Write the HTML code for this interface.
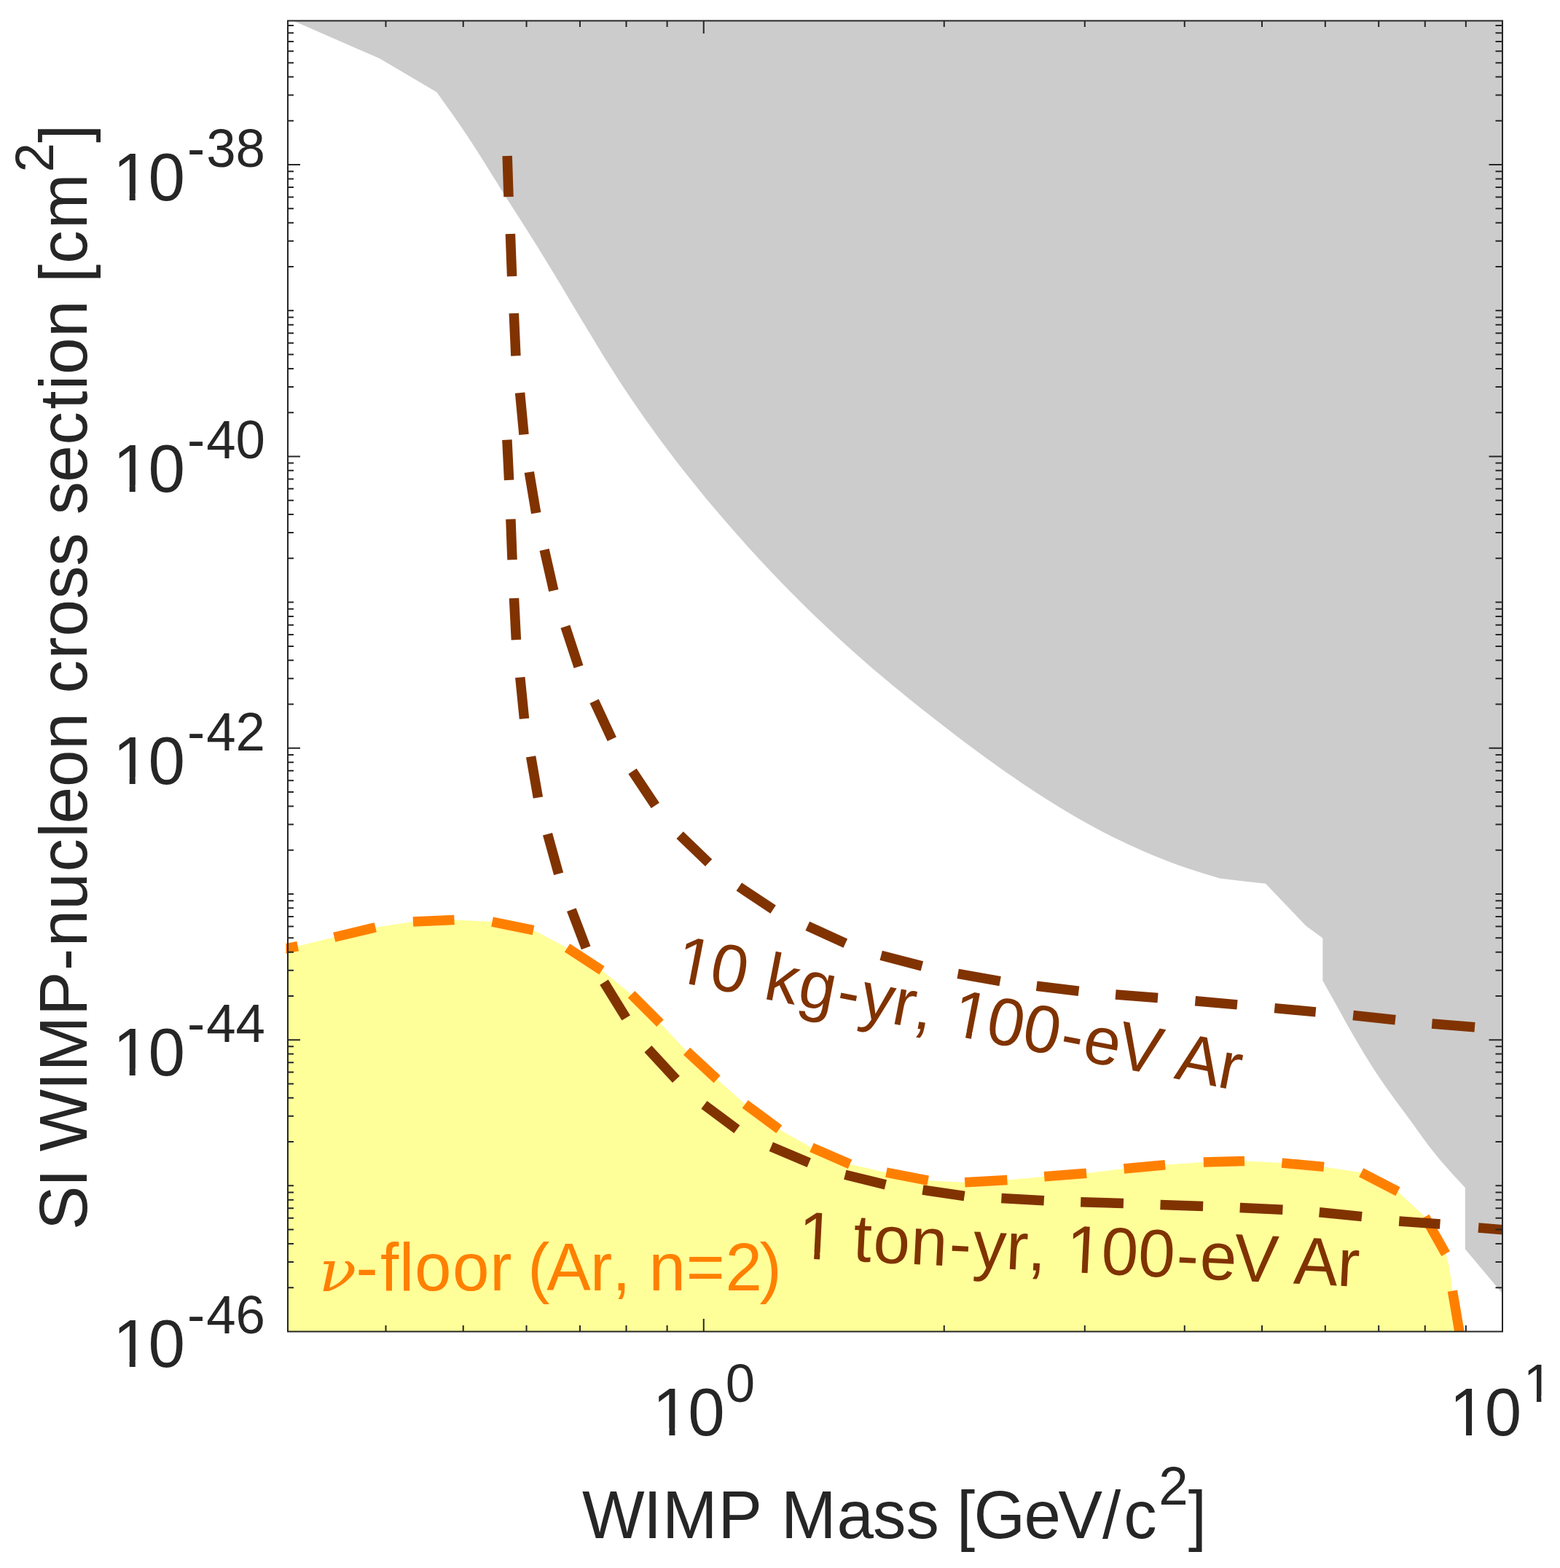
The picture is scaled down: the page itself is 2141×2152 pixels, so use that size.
<!DOCTYPE html>
<html lang="en"><head><meta charset="utf-8"><title>WIMP sensitivity plot</title>
<style>html,body{margin:0;padding:0;background:#fff;overflow:hidden}svg{display:block}text{font-family:"Liberation Sans",sans-serif;font-kerning:none}</style>
</head><body>
<svg xmlns="http://www.w3.org/2000/svg" width="2141" height="2152" viewBox="0 0 2141 2152">
<defs><clipPath id="ax"><rect x="392.5" y="28.5" width="1669.5" height="1799.0"/></clipPath><clipPath id="af"><rect x="395.0" y="28.5" width="1667.0" height="1799.0"/></clipPath></defs>
<rect width="2141" height="2152" fill="#fff"/>
<g clip-path="url(#af)">
<path d="M392.5,24.2 L521.0,80.2 L599.4,126.6 L606.5,136.5 L613.6,146.4 L620.6,156.3 L627.6,166.3 L634.5,176.3 L641.3,186.4 L647.9,196.6 L654.5,206.8 L661.0,217.1 L667.5,227.4 L673.9,237.7 L680.4,248.0 L686.8,258.4 L693.3,268.7 L699.8,278.9 L706.3,289.2 L712.9,299.5 L719.4,309.7 L725.9,320.0 L732.4,330.3 L738.8,340.6 L745.2,351.0 L751.6,361.4 L757.9,371.7 L764.2,382.2 L770.5,392.6 L776.7,403.0 L782.9,413.5 L789.2,423.9 L795.4,434.4 L801.7,444.8 L808.0,455.2 L814.3,465.6 L820.6,476.0 L827.0,486.4 L833.4,496.7 L839.9,507.0 L846.4,517.3 L853.0,527.5 L859.7,537.6 L866.5,547.7 L873.4,557.8 L880.3,567.8 L887.3,577.7 L894.4,587.6 L901.5,597.5 L908.7,607.3 L916.0,617.0 L923.4,626.7 L930.8,636.4 L938.3,646.0 L945.9,655.5 L953.5,665.0 L961.2,674.5 L968.9,683.9 L976.7,693.2 L984.6,702.6 L992.5,711.8 L1000.5,721.0 L1008.5,730.2 L1016.6,739.3 L1024.7,748.4 L1032.9,757.4 L1041.1,766.4 L1049.4,775.3 L1057.8,784.2 L1066.2,793.0 L1074.6,801.7 L1083.2,810.4 L1091.7,819.1 L1100.3,827.7 L1109.0,836.2 L1117.7,844.7 L1126.5,853.1 L1135.4,861.5 L1144.3,869.8 L1153.2,878.1 L1162.2,886.3 L1171.3,894.4 L1180.4,902.5 L1189.5,910.5 L1198.7,918.4 L1208.0,926.3 L1217.3,934.1 L1226.7,941.9 L1236.1,949.6 L1245.5,957.3 L1255.0,964.9 L1264.5,972.5 L1274.1,980.1 L1283.6,987.6 L1293.3,995.0 L1302.9,1002.5 L1312.6,1009.9 L1322.2,1017.2 L1332.0,1024.5 L1341.7,1031.8 L1351.6,1039.0 L1361.4,1046.1 L1371.3,1053.2 L1381.3,1060.2 L1391.3,1067.1 L1401.3,1074.0 L1411.4,1080.7 L1421.6,1087.4 L1431.8,1094.0 L1442.1,1100.5 L1452.5,1106.9 L1462.9,1113.2 L1473.4,1119.4 L1483.9,1125.4 L1494.6,1131.4 L1505.2,1137.2 L1516.0,1142.9 L1526.9,1148.4 L1537.8,1153.8 L1548.8,1159.0 L1559.8,1164.1 L1571.0,1169.0 L1582.2,1173.7 L1593.5,1178.3 L1604.8,1182.7 L1616.2,1186.9 L1627.7,1190.9 L1639.3,1194.7 L1650.9,1198.4 L1662.5,1202.0 L1674.1,1205.6 L1705.3,1209.2 L1737.0,1212.8 L1771.6,1248.9 L1792.4,1270.8 L1815.3,1287.4 L1815.3,1345.7 L1821.5,1356.9 L1827.7,1368.1 L1834.0,1379.3 L1840.2,1390.5 L1846.4,1401.7 L1852.7,1412.9 L1859.1,1424.0 L1865.5,1435.1 L1872.1,1446.1 L1878.9,1457.0 L1885.7,1467.8 L1892.8,1478.5 L1900.0,1489.1 L1907.5,1499.5 L1915.0,1509.9 L1922.7,1520.2 L1930.3,1530.5 L1937.8,1540.8 L1945.3,1551.3 L1952.8,1561.7 L1960.4,1572.0 L1968.3,1582.1 L1976.4,1592.0 L1984.8,1601.6 L1993.4,1611.2 L2002.0,1620.6 L2010.8,1630.0 L2010.8,1714.2 L2066.0,1780.2 L2062.0,28.5 Z" fill="#CCCCCC"/>
<path d="M395.0,1832.5 L350.5,1310.0 L408.7,1298.6 L458.7,1286.3 L515.3,1272.8 L566.9,1265.1 L623.5,1262.4 L675.5,1265.1 L732.0,1276.6 L778.5,1300.9 L826.0,1331.8 L866.5,1364.8 L906.0,1404.3 L942.5,1442.8 L984.1,1481.3 L1022.7,1515.3 L1069.3,1549.9 L1114.0,1574.9 L1166.5,1597.8 L1216.4,1609.2 L1273.7,1620.2 L1324.2,1622.7 L1382.4,1619.6 L1433.2,1614.8 L1491.1,1610.2 L1542.5,1604.0 L1599.1,1598.8 L1651.8,1595.1 L1708.0,1593.6 L1759.3,1596.1 L1817.0,1601.4 L1868.2,1609.3 L1918.5,1635.3 L1955.6,1670.0 L1984.1,1720.6 L1988.2,1735.2 L1991.4,1753.9 L1993.4,1771.6 L2003.5,1831.0 L2003.5,1832.5 Z" fill="#FFFF99"/>
</g>
<g clip-path="url(#ax)">
<path d="M350.5,1310.0 L408.7,1298.6 M458.7,1286.3 L515.3,1272.8 M566.9,1265.1 L623.5,1262.4 M675.5,1265.1 L732.0,1276.6 M778.5,1300.9 L826.0,1331.8 M866.5,1364.8 L906.0,1404.3 M942.5,1442.8 L984.1,1481.3 M1022.7,1515.3 L1069.3,1549.9 M1114.0,1574.9 L1166.5,1597.8 M1216.4,1609.2 L1273.7,1620.2 M1324.2,1622.7 L1382.4,1619.6 M1433.2,1614.8 L1491.1,1610.2 M1542.5,1604.0 L1599.1,1598.8 M1651.8,1595.1 L1708.0,1593.6 M1759.3,1596.1 L1817.0,1601.4 M1868.2,1609.3 L1918.5,1635.3 M1955.6,1670.0 L1984.1,1720.6 M1993.4,1771.6 L2003.5,1831.0" fill="none" stroke="#FF8000" stroke-width="13.5" stroke-linecap="butt"/>
<path d="M696.2,214.0 L698.0,270.1 M700.4,320.9 L702.6,379.2 M705.3,430.0 L707.9,488.4 M713.6,539.2 L719.0,596.4 M726.3,648.0 L735.7,704.2 M747.1,754.6 L759.8,810.4 M775.9,859.9 L794.0,915.0 M815.6,962.3 L839.8,1014.3 M868.0,1058.6 L899.3,1105.5 M933.1,1146.2 L972.6,1184.1 M1014.3,1217.0 L1061.1,1248.2 M1108.3,1270.8 L1160.3,1294.7 M1209.2,1311.3 L1265.4,1325.9 M1314.7,1336.3 L1372.6,1346.7 M1422.7,1353.2 L1480.5,1360.2 M1531.1,1365.0 L1589.0,1369.6 M1640.4,1373.7 L1698.0,1378.9 M1749.3,1383.6 L1805.7,1388.9 M1857.1,1393.5 L1915.0,1399.7 M1965.3,1405.0 L2024.0,1409.7" fill="none" stroke="#803300" stroke-width="13.5" stroke-linecap="butt"/>
<path d="M695.9,603.7 L698.6,658.9 M700.9,712.4 L703.0,768.2 M705.5,821.0 L708.4,878.2 M713.8,929.6 L719.5,986.4 M728.6,1038.3 L738.4,1094.7 M751.5,1144.8 L766.6,1199.3 M784.3,1248.6 L804.2,1300.8 M829.0,1348.1 L859.2,1397.0 M889.4,1439.7 L927.9,1481.3 M966.4,1516.3 L1011.4,1549.9 M1058.3,1573.8 L1110.3,1595.7 M1159.8,1612.3 L1215.4,1625.9 M1266.4,1633.1 L1323.6,1641.5 M1374.4,1644.4 L1432.8,1647.7 M1483.2,1649.8 L1541.9,1651.5 M1592.5,1653.5 L1651.1,1655.6 M1701.7,1657.5 L1760.4,1660.3 M1810.7,1663.8 L1869.0,1669.6 M1920.2,1675.9 L1976.4,1680.0 M2029.0,1685.1 L2086.0,1689.7" fill="none" stroke="#803300" stroke-width="13.5" stroke-linecap="butt"/>
</g>
<g fill="#803300">
<text transform="translate(921.4,1346.0) rotate(11.00) scale(1,1.020)" font-size="90.7" x="1.8 50.4 100.9 126.9 174.0 227.7 260.5 305.8 336.1 361.3 388.3 436.9 487.3 540.3 572.2 619.2 677.2 701.5 761.2" y="0">10 kg-yr, 100-eV Ar</text><path transform="translate(921.4,1346.0) rotate(11.00) scale(1,1.020)" d="M7.22,2.50h17.40v-11.78h-17.40z M32.63,2.50h16.69v-11.78h-16.69z M393.69,2.50h17.40v-11.78h-17.40z M419.10,2.50h16.69v-11.78h-16.69z" fill="#fff"/>
<text transform="translate(1092.5,1726.9) rotate(2.91) scale(1,1.020)" font-size="90.7" x="1.8 50.4 77.3 105.0 156.3 209.2 242.0 287.3 317.5 342.8 369.8 418.4 468.8 521.8 553.7 600.7 658.7 683.0 742.7" y="0">1 ton-yr, 100-eV Ar</text><path transform="translate(1092.5,1726.9) rotate(2.91) scale(1,1.020)" d="M7.22,2.50h17.40v-11.78h-17.40z M32.63,2.50h16.69v-11.78h-16.69z M375.19,2.50h17.40v-11.78h-17.40z M400.60,2.50h16.69v-11.78h-16.69z" fill="#FFFF99"/>
</g>
<g fill="#FF8000">
<text transform="translate(437.5,1771.6) scale(1.085,1)" style="font-family:'DejaVu Serif',serif;font-style:italic" font-size="78.6">ν</text>
<text transform="translate(485.9,1771.3) scale(1,1.020)" font-size="90.7" x="2.5 36.1 62.1 83.1 135.1 186.4 216.6 238.4 264.4 324.1 354.3 379.5 404.7 455.9 509.5 556.6" y="0">-floor (Ar, n=2)</text>
</g>
<path d="M395.00,1767.24 H403.00 M2062.00,1767.24 H2052.50 M395.00,1731.99 H403.00 M2062.00,1731.99 H2052.50 M395.00,1706.98 H403.00 M2062.00,1706.98 H2052.50 M395.00,1687.58 H403.00 M2062.00,1687.58 H2052.50 M395.00,1671.73 H403.00 M2062.00,1671.73 H2052.50 M395.00,1658.33 H403.00 M2062.00,1658.33 H2052.50 M395.00,1646.72 H403.00 M2062.00,1646.72 H2052.50 M395.00,1636.48 H403.00 M2062.00,1636.48 H2052.50 M395.00,1627.33 H403.00 M2062.00,1627.33 H2052.50 M395.00,1567.07 H403.00 M2062.00,1567.07 H2052.50 M395.00,1531.82 H403.00 M2062.00,1531.82 H2052.50 M395.00,1506.81 H403.00 M2062.00,1506.81 H2052.50 M395.00,1487.41 H403.00 M2062.00,1487.41 H2052.50 M395.00,1471.56 H403.00 M2062.00,1471.56 H2052.50 M395.00,1458.16 H403.00 M2062.00,1458.16 H2052.50 M395.00,1446.55 H403.00 M2062.00,1446.55 H2052.50 M395.00,1436.31 H403.00 M2062.00,1436.31 H2052.50 M395.00,1427.15 H412.00 M2062.00,1427.15 H2043.50 M395.00,1366.89 H403.00 M2062.00,1366.89 H2052.50 M395.00,1331.64 H403.00 M2062.00,1331.64 H2052.50 M395.00,1306.63 H403.00 M2062.00,1306.63 H2052.50 M395.00,1287.23 H403.00 M2062.00,1287.23 H2052.50 M395.00,1271.38 H403.00 M2062.00,1271.38 H2052.50 M395.00,1257.98 H403.00 M2062.00,1257.98 H2052.50 M395.00,1246.37 H403.00 M2062.00,1246.37 H2052.50 M395.00,1236.13 H403.00 M2062.00,1236.13 H2052.50 M395.00,1226.97 H403.00 M2062.00,1226.97 H2052.50 M395.00,1166.72 H403.00 M2062.00,1166.72 H2052.50 M395.00,1131.47 H403.00 M2062.00,1131.47 H2052.50 M395.00,1106.46 H403.00 M2062.00,1106.46 H2052.50 M395.00,1087.06 H403.00 M2062.00,1087.06 H2052.50 M395.00,1071.21 H403.00 M2062.00,1071.21 H2052.50 M395.00,1057.81 H403.00 M2062.00,1057.81 H2052.50 M395.00,1046.20 H403.00 M2062.00,1046.20 H2052.50 M395.00,1035.96 H403.00 M2062.00,1035.96 H2052.50 M395.00,1026.80 H412.00 M2062.00,1026.80 H2043.50 M395.00,966.54 H403.00 M2062.00,966.54 H2052.50 M395.00,931.29 H403.00 M2062.00,931.29 H2052.50 M395.00,906.28 H403.00 M2062.00,906.28 H2052.50 M395.00,886.88 H403.00 M2062.00,886.88 H2052.50 M395.00,871.03 H403.00 M2062.00,871.03 H2052.50 M395.00,857.63 H403.00 M2062.00,857.63 H2052.50 M395.00,846.02 H403.00 M2062.00,846.02 H2052.50 M395.00,835.78 H403.00 M2062.00,835.78 H2052.50 M395.00,826.62 H403.00 M2062.00,826.62 H2052.50 M395.00,766.37 H403.00 M2062.00,766.37 H2052.50 M395.00,731.12 H403.00 M2062.00,731.12 H2052.50 M395.00,706.11 H403.00 M2062.00,706.11 H2052.50 M395.00,686.71 H403.00 M2062.00,686.71 H2052.50 M395.00,670.86 H403.00 M2062.00,670.86 H2052.50 M395.00,657.46 H403.00 M2062.00,657.46 H2052.50 M395.00,645.85 H403.00 M2062.00,645.85 H2052.50 M395.00,635.61 H403.00 M2062.00,635.61 H2052.50 M395.00,626.45 H412.00 M2062.00,626.45 H2043.50 M395.00,566.19 H403.00 M2062.00,566.19 H2052.50 M395.00,530.94 H403.00 M2062.00,530.94 H2052.50 M395.00,505.93 H403.00 M2062.00,505.93 H2052.50 M395.00,486.53 H403.00 M2062.00,486.53 H2052.50 M395.00,470.68 H403.00 M2062.00,470.68 H2052.50 M395.00,457.28 H403.00 M2062.00,457.28 H2052.50 M395.00,445.67 H403.00 M2062.00,445.67 H2052.50 M395.00,435.43 H403.00 M2062.00,435.43 H2052.50 M395.00,426.27 H403.00 M2062.00,426.27 H2052.50 M395.00,366.02 H403.00 M2062.00,366.02 H2052.50 M395.00,330.77 H403.00 M2062.00,330.77 H2052.50 M395.00,305.76 H403.00 M2062.00,305.76 H2052.50 M395.00,286.36 H403.00 M2062.00,286.36 H2052.50 M395.00,270.51 H403.00 M2062.00,270.51 H2052.50 M395.00,257.11 H403.00 M2062.00,257.11 H2052.50 M395.00,245.50 H403.00 M2062.00,245.50 H2052.50 M395.00,235.26 H403.00 M2062.00,235.26 H2052.50 M395.00,226.10 H412.00 M2062.00,226.10 H2043.50 M395.00,165.84 H403.00 M2062.00,165.84 H2052.50 M395.00,130.59 H403.00 M2062.00,130.59 H2052.50 M395.00,105.58 H403.00 M2062.00,105.58 H2052.50 M395.00,86.18 H403.00 M2062.00,86.18 H2052.50 M395.00,70.33 H403.00 M2062.00,70.33 H2052.50 M395.00,56.93 H403.00 M2062.00,56.93 H2052.50 M395.00,45.32 H403.00 M2062.00,45.32 H2052.50 M395.00,35.08 H403.00 M2062.00,35.08 H2052.50 M529.51,1827.50 V1819.00 M529.51,28.50 V37.00 M635.75,1827.50 V1819.00 M635.75,28.50 V37.00 M722.55,1827.50 V1819.00 M722.55,28.50 V37.00 M795.94,1827.50 V1819.00 M795.94,28.50 V37.00 M859.51,1827.50 V1819.00 M859.51,28.50 V37.00 M915.59,1827.50 V1819.00 M915.59,28.50 V37.00 M965.75,1827.50 V1810.00 M965.75,28.50 V46.00 M1295.75,1827.50 V1819.00 M1295.75,28.50 V37.00 M1488.79,1827.50 V1819.00 M1488.79,28.50 V37.00 M1625.76,1827.50 V1819.00 M1625.76,28.50 V37.00 M1732.00,1827.50 V1819.00 M1732.00,28.50 V37.00 M1818.80,1827.50 V1819.00 M1818.80,28.50 V37.00 M1892.19,1827.50 V1819.00 M1892.19,28.50 V37.00 M1955.76,1827.50 V1819.00 M1955.76,28.50 V37.00 M2011.84,1827.50 V1819.00 M2011.84,28.50 V37.00" stroke="#262626" stroke-width="2" fill="none"/>
<rect x="395.0" y="28.5" width="1667.0" height="1799.0" fill="none" stroke="#262626" stroke-width="2"/>
<g fill="#262626">
<text transform="translate(153.1,275.0) scale(1,1.030)" font-size="90.7" x="1.8 50.4 103.9 130.1 170.4" y="0">10<tspan font-size="72.6" dy="-44.7">-38</tspan></text><path transform="translate(153.1,275.0) scale(1,1.030)" d="M7.22,2.50h17.40v-11.78h-17.40z M32.63,2.50h16.69v-11.78h-16.69z" fill="#fff"/>
<text transform="translate(153.1,675.3) scale(1,1.030)" font-size="90.7" x="1.8 50.4 103.9 130.1 170.4" y="0">10<tspan font-size="72.6" dy="-44.7">-40</tspan></text><path transform="translate(153.1,675.3) scale(1,1.030)" d="M7.22,2.50h17.40v-11.78h-17.40z M32.63,2.50h16.69v-11.78h-16.69z" fill="#fff"/>
<text transform="translate(153.1,1075.7) scale(1,1.030)" font-size="90.7" x="1.8 50.4 103.9 130.1 170.4" y="0">10<tspan font-size="72.6" dy="-44.7">-42</tspan></text><path transform="translate(153.1,1075.7) scale(1,1.030)" d="M7.22,2.50h17.40v-11.78h-17.40z M32.63,2.50h16.69v-11.78h-16.69z" fill="#fff"/>
<text transform="translate(153.1,1476.1) scale(1,1.030)" font-size="90.7" x="1.8 50.4 103.9 130.1 170.4" y="0">10<tspan font-size="72.6" dy="-44.7">-44</tspan></text><path transform="translate(153.1,1476.1) scale(1,1.030)" d="M7.22,2.50h17.40v-11.78h-17.40z M32.63,2.50h16.69v-11.78h-16.69z" fill="#fff"/>
<text transform="translate(153.1,1876.4) scale(1,1.030)" font-size="90.7" x="1.8 50.4 103.9 130.1 170.4" y="0">10<tspan font-size="72.6" dy="-44.7">-46</tspan></text><path transform="translate(153.1,1876.4) scale(1,1.030)" d="M7.22,2.50h17.40v-11.78h-17.40z M32.63,2.50h16.69v-11.78h-16.69z" fill="#fff"/>
<text transform="translate(893.8,1969.9) scale(1,1.030)" font-size="90.7" x="1.8 50.4 101.9" y="0">10<tspan font-size="72.6" dy="-44.7">0</tspan></text><path transform="translate(893.8,1969.9) scale(1,1.030)" d="M7.22,2.50h17.40v-11.78h-17.40z M32.63,2.50h16.69v-11.78h-16.69z" fill="#fff"/>
<text transform="translate(1987.4,1969.9) scale(1,1.030)" font-size="90.7" x="1.8 50.4 103.3" y="0">10<tspan font-size="72.6" dy="-44.7">1</tspan></text><path transform="translate(1987.4,1969.9) scale(1,1.030)" d="M7.22,2.50h17.40v-11.78h-17.40z M32.63,2.50h16.69v-11.78h-16.69z M107.33,-42.16h14.22v-10.42h-14.22z M127.96,-42.16h13.65v-10.42h-13.65z" fill="#fff"/>
<text transform="translate(799.9,2111.0) scale(1,1.020)" font-size="90.7" x="-0.8 83.1 109.2 185.6 245.3 272.2 348.6 398.2 443.5 488.9 513.2 536.7 605.6 652.6 713.0 742.4 790.4 830.9" y="0">WIMP Mass [GeV/c<tspan font-size="72.6" dy="-45.1">2</tspan><tspan dy="45.1">]</tspan></text>
<text transform="translate(118.6,1687.2) rotate(-90.00) scale(1,1.020)" font-size="90.7" x="-0.9 57.9 82.3 106.7 190.6 216.7 293.1 355.3 388.0 438.4 490.6 537.6 556.8 607.2 658.5 708.9 735.8 782.8 813.8 865.1 910.4 955.8 981.0 1025.5 1076.7 1125.5 1152.3 1173.3 1224.5 1275.0 1299.3 1325.4 1373.3 1450.7 1491.2" y="0">SI WIMP-nucleon cross section [cm<tspan font-size="72.6" dy="-45.1">2</tspan><tspan dy="45.1">]</tspan></text>
</g>
</svg>
</body></html>
